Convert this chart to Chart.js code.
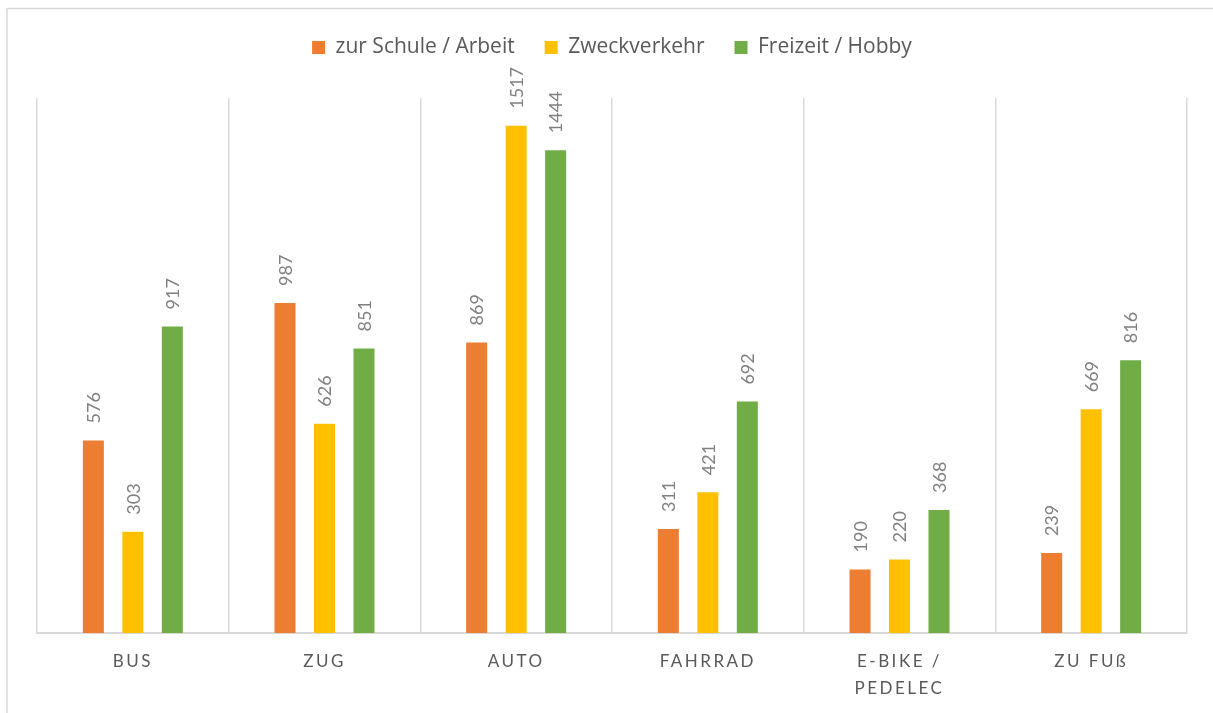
<!DOCTYPE html>
<html>
<head>
<meta charset="utf-8">
<script src="https://cdn.jsdelivr.net/npm/chart.js@4.4.1/dist/chart.umd.min.js"></script>
<style>
  html, body { margin: 0; padding: 0; background: #ffffff; }
  #wrap { position: relative; width: 1213px; height: 713px; }
</style>
</head>
<body>
<div id="wrap"><canvas id="c" width="1213" height="713"></canvas></div>
<script>
const categories = ['BUS', 'ZUG', 'AUTO', 'FAHRRAD', ['E-BIKE /', 'PEDELEC'], 'ZU FUß'];
const schuleArbeit = [576, 987, 869, 311, 190, 239];
const zweckverkehr = [303, 626, 1517, 421, 220, 669];
const freizeitHobby = [917, 851, 1444, 692, 368, 816];
const seriesNames = ['zur Schule / Arbeit', 'Zweckverkehr', 'Freizeit / Hobby'];
const seriesColors = ['#ED7D31', '#FFC000', '#70AD47'];
const yMax = 1600;

const FONT = 'Lato, "Open Sans", sans-serif';
const LEGEND_FONT = '"Open Sans", Lato, sans-serif';

class SpacedCategoryScale extends Chart.CategoryScale {
  drawLabels(chartArea) {
    const ctx = this.ctx;
    ctx.save();
    ctx.letterSpacing = '2.5px';
    super.drawLabels(chartArea);
    ctx.restore();
  }
}
SpacedCategoryScale.id = 'spacedCategory';
SpacedCategoryScale.defaults = Chart.CategoryScale.defaults;
Chart.register(SpacedCategoryScale);

const frame = {
  id: 'frame',
  beforeDraw(chart) {
    const ctx = chart.ctx;
    ctx.save();
    ctx.strokeStyle = '#d9d9d9';
    ctx.lineWidth = 1.5;
    ctx.beginPath();
    ctx.moveTo(7, 713);
    ctx.lineTo(7, 8.5);
    ctx.lineTo(1213, 8.5);
    ctx.stroke();
    ctx.restore();
  }
};

// extra space between legend and plot area
const legendGap = {
  id: 'legendGap',
  beforeLayout(chart) {
    const lg = chart.legend;
    if (lg && !lg._gapPatched) {
      const orig = lg.fit.bind(lg);
      lg.fit = function () { orig(); this.height += 30; };
      lg._gapPatched = true;
    }
  }
};

const valueLabels = {
  id: 'valueLabels',
  afterDatasetsDraw(chart) {
    const ctx = chart.ctx;
    ctx.save();
    ctx.fillStyle = '#808080';
    ctx.font = '18px ' + FONT;
    ctx.textAlign = 'left';
    ctx.textBaseline = 'middle';
    chart.data.datasets.forEach((ds, di) => {
      const meta = chart.getDatasetMeta(di);
      meta.data.forEach((bar, i) => {
        ctx.save();
        ctx.translate(bar.x + 1, bar.y - 17);
        ctx.rotate(-Math.PI / 2);
        ctx.fillText(String(ds.data[i]), 0, 0);
        ctx.restore();
      });
    });
    ctx.restore();
  }
};

const seriesData = [schuleArbeit, zweckverkehr, freizeitHobby];

new Chart(document.getElementById('c'), {
  type: 'bar',
  data: {
    labels: categories,
    datasets: seriesNames.map((name, k) => ({
      label: name,
      data: seriesData[k],
      backgroundColor: seriesColors[k],
      borderWidth: 0,
      categoryPercentage: 0.618,
      barPercentage: 0.532
    }))
  },
  options: {
    responsive: false,
    animation: false,
    layout: { padding: { left: 37, right: 26, top: 7, bottom: -4 } },
    plugins: {
      legend: {
        position: 'top',
        labels: {
          boxWidth: 13,
          boxHeight: 13,
          padding: 30,
          color: '#595959',
          font: { family: LEGEND_FONT, size: 21 }
        }
      },
      tooltip: { enabled: false }
    },
    scales: {
      x: {
        type: 'spacedCategory',
        grid: { display: true, offset: true, color: '#d9d9d9', lineWidth: 1.5, drawTicks: false },
        border: { display: true, color: '#d9d9d9', width: 2 },
        ticks: {
          color: '#595959',
          font: { family: FONT, size: 17, lineHeight: '27px' },
          padding: 15,
          maxRotation: 0,
          autoSkip: false
        }
      },
      y: {
        display: false,
        min: 0,
        max: yMax
      }
    }
  },
  plugins: [frame, legendGap, valueLabels]
});
</script>
</body>
</html>
